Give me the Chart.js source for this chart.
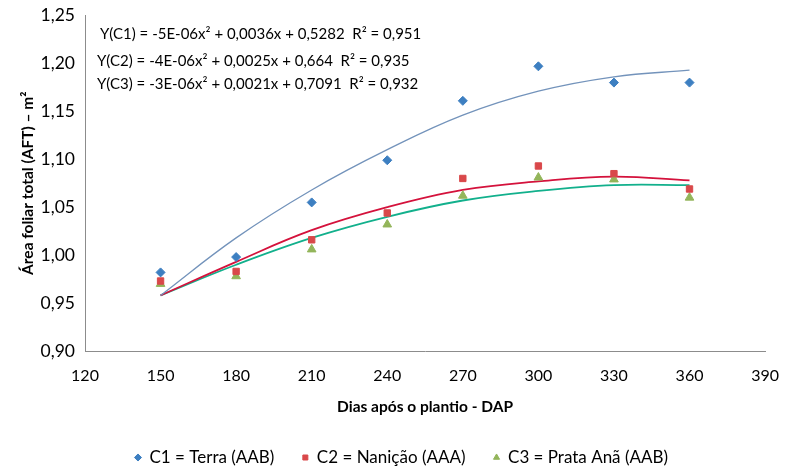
<!DOCTYPE html>
<html>
<head>
<meta charset="utf-8">
<script src="https://cdn.jsdelivr.net/npm/chart.js@4"></script>
<style>
  html, body { margin: 0; padding: 0; background: #fff; }
  #wrap { width: 789px; height: 472px; }
</style>
</head>
<body>
<div id="wrap"><canvas id="chart" width="789" height="472"></canvas></div>
<script>
// dias após o plantio
const dias = [150, 180, 210, 240, 270, 300, 330, 360];

const c1Obs = [0.982, 0.998, 1.055, 1.099, 1.161, 1.197, 1.180, 1.180];
const c2Obs = [0.973, 0.983, 1.016, 1.044, 1.080, 1.093, 1.085, 1.069];
const c3Obs = [0.970, 0.978, 1.006, 1.032, 1.062, 1.081, 1.079, 1.060];

const c1Trend = [0.958, 1.018, 1.068, 1.110, 1.146, 1.171, 1.186, 1.193];
const c2Trend = [0.958, 0.993, 1.026, 1.050, 1.068, 1.077, 1.082, 1.078];
const c3Trend = [0.958, 0.990, 1.018, 1.040, 1.057, 1.067, 1.073, 1.073];

const legendas = ["C1 = Terra (AAB)", "C2 = Nanição (AAA)", "C3 = Prata Anã (AAB)"];
const equacoes = [
  "Y(C1) = -5E-06x² + 0,0036x + 0,5282  R² = 0,951",
  "Y(C2) = -4E-06x² + 0,0025x + 0,664  R² = 0,935",
  "Y(C3) = -3E-06x² + 0,0021x + 0,7091  R² = 0,932"
];

const FONT = "Lato, 'Open Sans', sans-serif";

function pts(ys) {
  return dias.map((d, i) => ({ x: d, y: ys[i] }));
}

function fmt(v, dec) {
  return v.toFixed(dec).replace(".", ",");
}

// texto das equações no canto superior esquerdo
const equationsPlugin = {
  id: "equations",
  afterDatasetsDraw(chart) {
    const ctx = chart.ctx;
    const xs = [100, 97, 97];
    const ys = [34, 61, 84];
    ctx.save();
    ctx.fillStyle = "#000";
    ctx.font = "15px " + FONT;
    ctx.textBaseline = "middle";
    equacoes.forEach((t, i) => ctx.fillText(t, xs[i], ys[i]));
    ctx.restore();
  }
};

// legenda um pouco deslocada para a direita, como no original
const legendShift = {
  id: "legendShift",
  afterLayout(chart) {
    if (chart.legend) {
      chart.legend.left += 16;
      chart.legend.right += 16;
    }
  }
};

const ctx = document.getElementById("chart").getContext("2d");
new Chart(ctx, {
  type: "scatter",
  data: {
    datasets: [
      { label: legendas[0], data: pts(c1Obs), pointStyle: "rectRot", pointRadius: 4.5,
        backgroundColor: "#3d7fc1", borderColor: "#3d7fc1", showLine: false, order: 1 },
      { label: legendas[1], data: pts(c2Obs), pointStyle: "rect", pointRadius: 4.5,
        backgroundColor: "#d9484a", borderColor: "#d9484a", showLine: false, order: 1 },
      { label: legendas[2], data: pts(c3Obs), pointStyle: "triangle", pointRadius: 5,
        backgroundColor: "#93b55a", borderColor: "#93b55a", showLine: false, order: 1 },
      { label: "trend1", data: pts(c1Trend), showLine: true, pointRadius: 0,
        borderColor: "#7393bb", borderWidth: 1.3, tension: 0.4, order: 2 },
      { label: "trend2", data: pts(c2Trend), showLine: true, pointRadius: 0,
        borderColor: "#d4123c", borderWidth: 1.8, tension: 0.4, order: 2 },
      { label: "trend3", data: pts(c3Trend), showLine: true, pointRadius: 0,
        borderColor: "#12b08c", borderWidth: 1.8, tension: 0.4, order: 2 }
    ]
  },
  options: {
    responsive: false,
    animation: false,
    layout: { padding: { left: 0, right: 18, top: 15, bottom: -4 } },
    plugins: {
      tooltip: { enabled: false },
      legend: {
        position: "bottom",
        labels: {
          filter: item => !item.text.startsWith("trend"),
          usePointStyle: true,
          boxWidth: 6,
          boxHeight: 5,
          padding: 28,
          color: "#000",
          font: { family: FONT, size: 17 }
        }
      }
    },
    scales: {
      x: {
        type: "linear",
        min: 120,
        max: 390,
        afterFit: s => { s.height = 70; },
        afterBuildTicks: s => {
          s.ticks = [];
          for (let v = 120; v <= 390; v += 30) s.ticks.push({ value: v });
        },
        ticks: { color: "#000", padding: 10, font: { family: FONT, size: 16 } },
        grid: { display: false, drawTicks: true, tickLength: 5, tickColor: "#8c8c8c" },
        border: { color: "#8c8c8c", width: 1 },
        title: {
          display: true,
          text: "Dias após o plantio - DAP",
          color: "#000",
          font: { family: FONT, size: 15.5, weight: "bold" },
          padding: { top: 0, bottom: 5 }
        }
      },
      y: {
        min: 0.9,
        max: 1.25,
        afterFit: s => { s.width = 85; },
        afterBuildTicks: s => {
          s.ticks = [];
          for (let i = 0; i <= 7; i++) s.ticks.push({ value: 0.9 + i * 0.05 });
        },
        ticks: { color: "#000", padding: 5, font: { family: FONT, size: 17.5 },
          callback: v => fmt(v, 2) },
        grid: { display: false, drawTicks: true, tickLength: 5, tickColor: "#8c8c8c" },
        border: { color: "#8c8c8c", width: 1 },
        title: {
          display: true,
          text: "Área foliar total (AFT) – m²",
          color: "#000",
          font: { family: FONT, size: 15.5, weight: "bold" },
          padding: { top: 19, bottom: 0 }
        }
      }
    }
  },
  plugins: [equationsPlugin, legendShift]
});
</script>
</body>
</html>
